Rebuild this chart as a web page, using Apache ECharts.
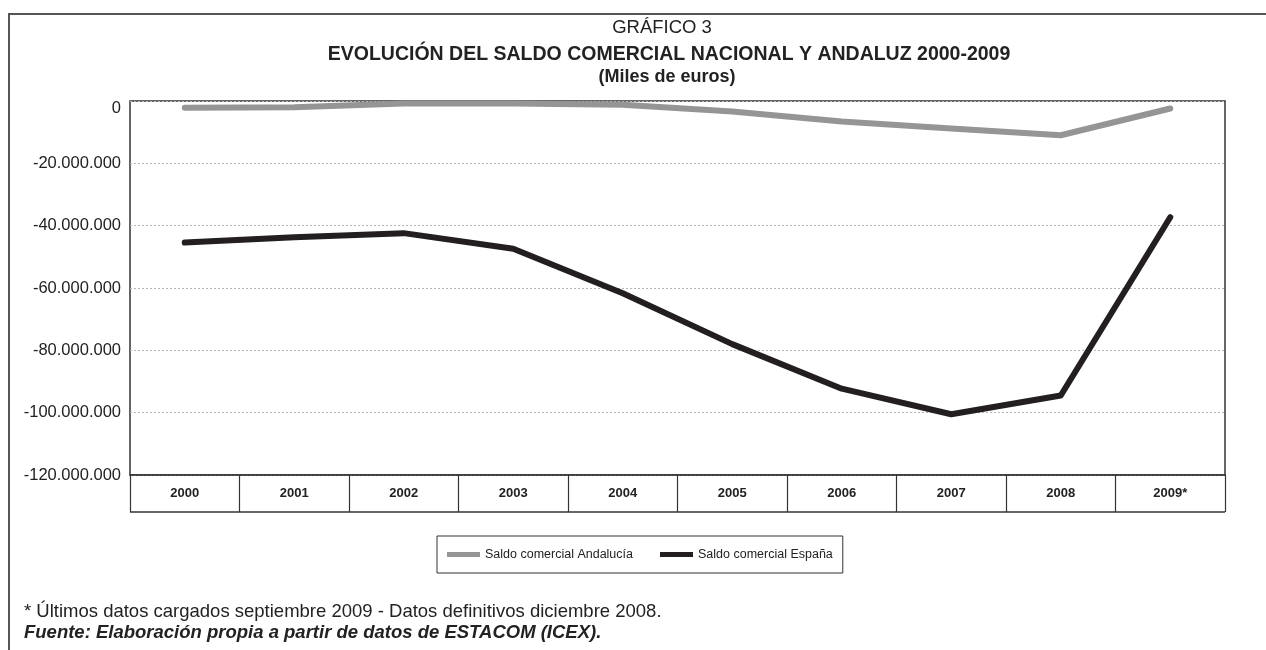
<!DOCTYPE html>
<html>
<head>
<meta charset="utf-8">
<script src="https://cdn.jsdelivr.net/npm/echarts@6/dist/echarts.min.js"></script>
<style>
  html, body { margin: 0; padding: 0; background: #fff; }
  #chart { width: 1266px; height: 650px; }
</style>
</head>
<body>
<div id="chart"></div>
<script>
// Data (miles de euros)
const years = ['2000', '2001', '2002', '2003', '2004', '2005', '2006', '2007', '2008', '2009*'];
const saldoAndalucia = [-2200000, -2000000, -800000, -800000, -1200000, -3400000, -6600000, -8800000, -11000000, -2400000];
const saldoEspana = [-45400000, -43700000, -42400000, -47400000, -61700000, -78000000, -92300000, -100500000, -94500000, -37300000];
const seriesNames = ['Saldo comercial Andalucía', 'Saldo comercial España'];
const yMin = -120000000, yMax = 0, yStep = 20000000;

function fmt(v) {
  if (v === 0) return '{z|0}';
  const neg = v < 0;
  let s = String(Math.abs(Math.round(v)));
  s = s.replace(/\B(?=(\d{3})+(?!\d))/g, '.');
  return (neg ? '-' : '') + s;
}

const FONT = '"Liberation Sans", Arial, Helvetica, sans-serif';
const chart = echarts.init(document.getElementById('chart'));
chart.setOption({
  backgroundColor: '#ffffff',
  animation: false,
  textStyle: { fontFamily: FONT },
  title: [
    { text: 'GRÁFICO 3', left: 657, top: 13, textAlign: 'center',
      textStyle: { fontFamily: FONT, fontSize: 18.5, fontWeight: 'normal', color: '#222' } },
    { text: 'EVOLUCIÓN DEL SALDO COMERCIAL NACIONAL Y ANDALUZ 2000-2009', left: 664, top: 40, textAlign: 'center',
      textStyle: { fontFamily: FONT, fontSize: 19.5, fontWeight: 'bold', color: '#222' } },
    { text: '(Miles de euros)', left: 662, top: 63, textAlign: 'center',
      textStyle: { fontFamily: FONT, fontSize: 18, fontWeight: 'bold', color: '#222' } }
  ],
  grid: {
    left: 130, right: 41, top: 101, bottom: 175,
    show: true, borderColor: '#333', borderWidth: 1.5, backgroundColor: 'transparent'
  },
  legend: {
    data: seriesNames,
    left: 437, top: 536,
    padding: [12, 10, 12, 10],
    itemGap: 27,
    itemWidth: 33, itemHeight: 5,
    icon: 'rect',
    borderColor: '#333', borderWidth: 1,
    textStyle: { fontFamily: FONT, fontSize: 12.5, color: '#222' }
  },
  xAxis: {
    type: 'category',
    data: years,
    boundaryGap: true,
    axisLine: { show: true, onZero: false, lineStyle: { color: '#333', width: 1.5 } },
    axisTick: { show: true, length: 37, lineStyle: { color: '#333', width: 1.2 } },
    axisLabel: { margin: 12, fontFamily: FONT, fontSize: 13, fontWeight: 'bold', color: '#222' },
    splitLine: { show: false }
  },
  yAxis: {
    type: 'value',
    min: yMin, max: yMax, interval: yStep,
    axisLine: { show: false },
    axisTick: { show: false },
    axisLabel: { margin: 9, fontFamily: FONT, fontSize: 16.5, color: '#222', formatter: fmt,
      rich: { z: { fontFamily: FONT, fontSize: 16.5, color: '#222', padding: [14, 0, 0, 0] } } },
    splitLine: { show: true, lineStyle: { color: '#b5b5b5', width: 1, type: [2, 2] } }
  },
  series: [
    {
      name: seriesNames[0], type: 'line', data: saldoAndalucia,
      symbol: 'none', color: '#959595',
      lineStyle: { color: '#959595', width: 6, cap: 'round', join: 'round' }
    },
    {
      name: seriesNames[1], type: 'line', data: saldoEspana,
      symbol: 'none', color: '#231f20',
      lineStyle: { color: '#231f20', width: 6, cap: 'round', join: 'round' }
    }
  ],
  graphic: [
    { type: 'polyline', silent: true, shape: { points: [[9, 652], [9, 14], [1268, 14]] },
      style: { stroke: '#555', lineWidth: 2, fill: null } },
    { type: 'line', silent: true, shape: { x1: 130, y1: 512, x2: 1225, y2: 512 },
      style: { stroke: '#333', lineWidth: 1.5 } },
    { type: 'text', left: 24, top: 602,
      style: { text: '* Últimos datos cargados septiembre 2009 - Datos definitivos diciembre 2008.',
        font: '18.5px ' + FONT, fill: '#222' } },
    { type: 'text', left: 24, top: 623,
      style: { text: 'Fuente: Elaboración propia a partir de datos de ESTACOM (ICEX).',
        font: 'italic bold 18.5px ' + FONT, fill: '#222' } }
  ]
});
</script>
</body>
</html>
